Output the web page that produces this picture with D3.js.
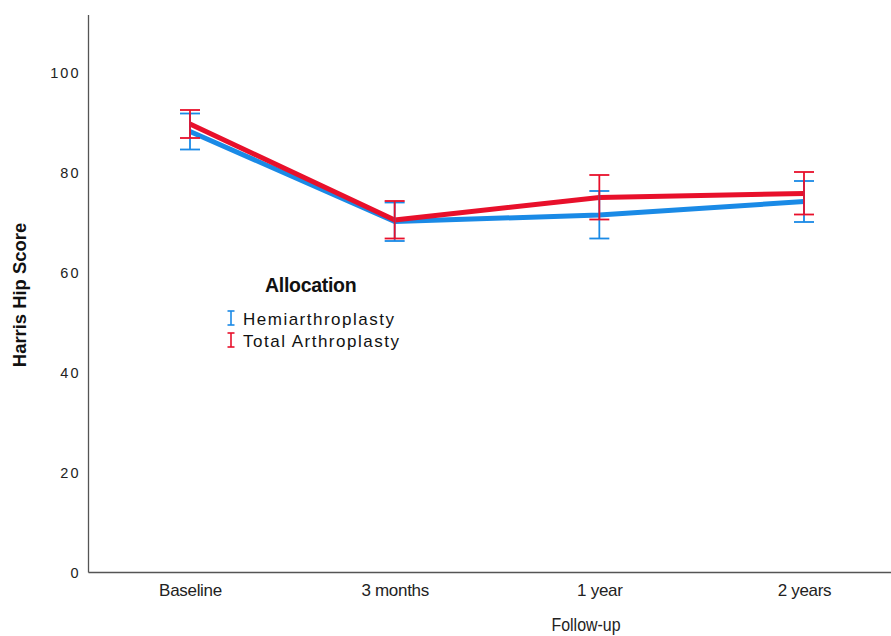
<!DOCTYPE html>
<html>
<head>
<meta charset="utf-8">
<script src="https://cdn.jsdelivr.net/npm/d3@7"></script>
<style>
  html, body { margin: 0; padding: 0; background: #fff; }
  svg { display: block; }
</style>
</head>
<body>
<svg id="chart" width="891" height="636"></svg>
<script>
// ---- data ----
const categories = ["Baseline", "3 months", "1 year", "2 years"];
const seriesNames = ["Hemiarthroplasty", "Total Arthroplasty"];
const hemiMean  = [88.2, 70.2, 71.5, 74.2];
const hemiLow   = [84.6, 66.3, 66.8, 70.1];
const hemiHigh  = [91.8, 74.0, 76.3, 78.3];
const totalMean = [89.7, 70.5, 75.0, 75.8];
const totalLow  = [86.9, 66.8, 70.6, 71.6];
const totalHigh = [92.5, 74.3, 79.5, 80.1];
const yTicks = [0, 20, 40, 60, 80, 100];
const colors = ["#1a8ae6", "#e8102b"];

const series = [
  { name: seriesNames[0], mean: hemiMean, low: hemiLow, high: hemiHigh, color: colors[0] },
  { name: seriesNames[1], mean: totalMean, low: totalLow, high: totalHigh, color: colors[1] }
];

const svg = d3.select("#chart");
const x0 = 88.5, yBottom = 572.5, yTop = 15;
const font = "'Liberation Sans', Arial, sans-serif";

const x = d3.scalePoint().domain(categories).range([190, 804]);
const y = d3.scaleLinear().domain([0, 100]).range([yBottom, 72.5]);

// axes lines
svg.append("line").attr("x1", x0).attr("x2", x0).attr("y1", yTop).attr("y2", yBottom)
  .attr("stroke", "#555").attr("stroke-width", 1.3);
svg.append("line").attr("x1", x0).attr("x2", 891).attr("y1", yBottom).attr("y2", yBottom)
  .attr("stroke", "#555").attr("stroke-width", 1.3);

// y axis tick labels
const yAxis = d3.axisLeft(y).tickValues(yTicks).tickSize(0).tickPadding(8);
const gy = svg.append("g").attr("transform", `translate(${x0},0)`).call(yAxis);
gy.select(".domain").remove();
gy.selectAll("text").attr("font-family", font)
  .attr("font-size", 14.5).attr("letter-spacing", "2px").attr("fill", "#222");

// x axis tick labels
const xAxis = d3.axisBottom(x).tickSize(0).tickPadding(11);
const gx = svg.append("g").attr("transform", `translate(0,${yBottom})`).call(xAxis);
gx.select(".domain").remove();
gx.selectAll("text").attr("font-family", font)
  .attr("font-size", 17).attr("letter-spacing", "-0.3px").attr("fill", "#222");

// axis titles
svg.append("text").attr("transform", "translate(586,631) scale(0.84,1)").attr("text-anchor", "middle")
  .attr("font-family", font)
  .attr("font-size", 19).attr("fill", "#222").text("Follow-up");
svg.append("text").attr("transform", "translate(26,295) rotate(-90) scale(0.97,1)").attr("text-anchor", "middle")
  .attr("font-family", font)
  .attr("font-size", 19).attr("font-weight", "bold").attr("fill", "#111").text("Harris Hip Score");

// lines
const line = d3.line().x((d, i) => x(categories[i])).y(d => y(d));
series.forEach(s => {
  svg.append("path").datum(s.mean).attr("d", line)
    .attr("fill", "none").attr("stroke", s.color).attr("stroke-width", 5)
    .attr("stroke-linejoin", "round");
});

// error bars
const capW = 10;
series.forEach(s => {
  const g = svg.append("g").attr("stroke", s.color).attr("stroke-width", 1.8);
  categories.forEach((c, i) => {
    const cx = x(c);
    g.append("line").attr("x1", cx).attr("x2", cx).attr("y1", y(s.low[i])).attr("y2", y(s.high[i]));
    g.append("line").attr("x1", cx - capW).attr("x2", cx + capW).attr("y1", y(s.low[i])).attr("y2", y(s.low[i]));
    g.append("line").attr("x1", cx - capW).attr("x2", cx + capW).attr("y1", y(s.high[i])).attr("y2", y(s.high[i]));
  });
});

// legend
svg.append("text").attr("x", 265).attr("y", 292)
  .attr("font-family", font).attr("font-size", 19.5)
  .attr("font-weight", "bold").attr("letter-spacing", "-0.3px").attr("fill", "#111").text("Allocation");
series.forEach((s, i) => {
  const ly = 318 + i * 22;
  const lg = svg.append("g").attr("stroke", s.color).attr("stroke-width", 1.6);
  lg.append("line").attr("x1", 231).attr("x2", 231).attr("y1", ly - 7).attr("y2", ly + 7);
  lg.append("line").attr("x1", 227.5).attr("x2", 234.5).attr("y1", ly - 7).attr("y2", ly - 7);
  lg.append("line").attr("x1", 227.5).attr("x2", 234.5).attr("y1", ly + 7).attr("y2", ly + 7);
  svg.append("text").attr("x", 243).attr("y", ly + 6.5)
    .attr("font-family", font).attr("font-size", 17)
    .attr("letter-spacing", "1.5px").attr("fill", "#111").text(s.name);
});
</script>
</body>
</html>
